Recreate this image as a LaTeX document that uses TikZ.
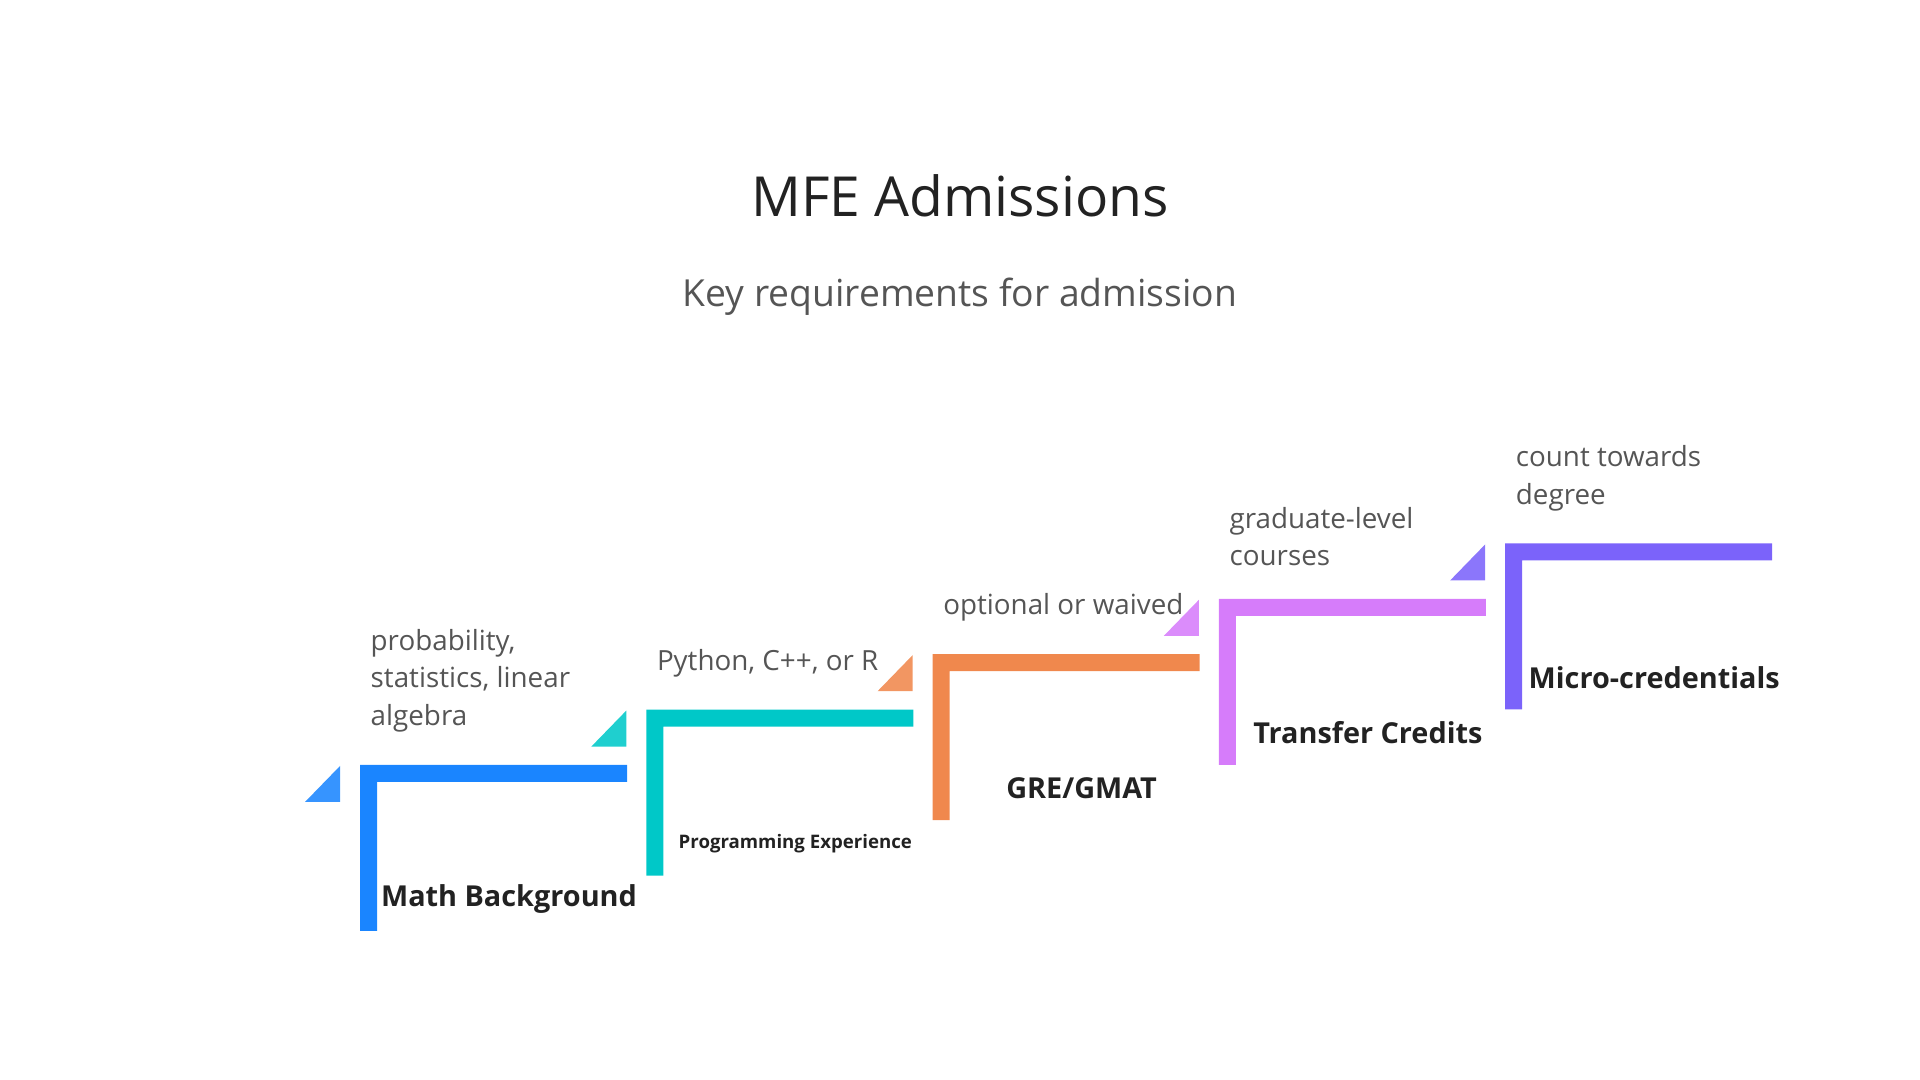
\documentclass[tikz,border=0pt]{standalone}
\usepackage{fontspec}
\setmainfont{Open Sans}
\definecolor{stepblue}{HTML}{1A85FF}
\definecolor{stepteal}{HTML}{00C8C8}
\definecolor{steporange}{HTML}{F0884D}
\definecolor{steplilac}{HTML}{D67CFA}
\definecolor{stepviolet}{HTML}{7B63FA}
\definecolor{notegrey}{HTML}{555555}
\definecolor{headgrey}{HTML}{222222}

\begin{document}
\begin{tikzpicture}[x=0.01cm, y=-0.01cm,
    head/.style={inner sep=0pt, text=headgrey, font=\fontsize{15.7}{18}\selectfont},
    subhead/.style={inner sep=0pt, text=notegrey, font=\fontsize{10.6}{12}\selectfont},
    stepname/.style={inner sep=0pt, text=headgrey, font=\fontsize{8.2}{10}\selectfont\bfseries},
    stepnote/.style={inner sep=0pt, anchor=south west, align=left, text=notegrey,
                     font=\fontsize{7.9}{10.7}\selectfont}]
  \useasboundingbox (0,0) rectangle (1920,1080);
  % title and subtitle
  \node[head]    (title)    at (960,196) {MFE Admissions};
  \node[subhead] (subtitle) at (960,297) {Key requirements for admission};

  % one step per requirement: an L-shaped bar, a small wedge before it, the name below, the note above
  \foreach \j/\col/\name/\note in {
      0/stepblue/{Math Background}/{probability,\\statistics, linear\\algebra},
      1/stepteal/{\fontsize{5.3}{7}\selectfont Programming Experience}/{Python, C++, or R},
      2/steporange/{GRE/GMAT}/{optional or waived},
      3/steplilac/{Transfer Credits}/{graduate-level\\courses},
      4/stepviolet/{Micro-credentials}/{count towards\\degree}} {
    \pgfmathsetmacro\X{360+286.3*\j}
    \pgfmathsetmacro\Y{765-55.4*\j}
    \fill[\col] (\X,\Y) -- ++(267,0) -- ++(0,17) -- ++(-250,0) -- ++(0,149) -- ++(-17,0) -- cycle;
    \fill[\col!88] (\X-55,\Y+37) -- (\X-20,\Y+37) -- (\X-20,\Y+1) -- cycle;
    \node[stepname] (name\j) at (\X+149,\Y+134) {\name};
    \node[stepnote] (note\j) at (\X+10,\Y-32) {\note};}
\end{tikzpicture}
\end{document}
